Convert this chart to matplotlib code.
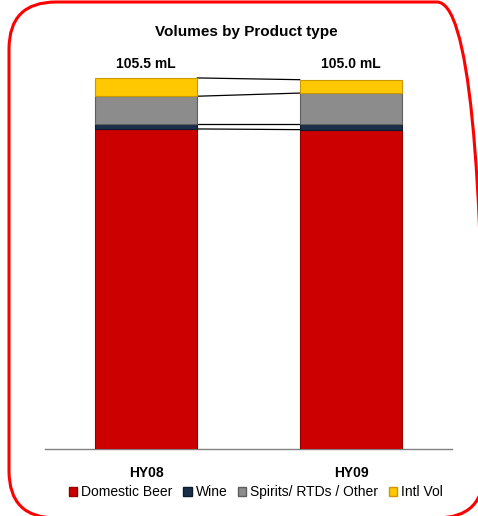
import matplotlib.pyplot as plt
import numpy as np
from matplotlib.patches import FancyBboxPatch, Patch
from matplotlib.transforms import IdentityTransform

plt.rcParams['font.family'] = ['Liberation Sans', 'DejaVu Sans']

periods = ["HY08", "HY09"]
totals = ["105.5 mL", "105.0 mL"]
segments = ["Domestic Beer", "Wine", "Spirits/ RTDs / Other", "Intl Vol"]
domestic_beer = [91.0, 90.8]
wine = [1.5, 1.7]
spirits = [7.8, 8.7]
intl_vol = [5.2, 3.8]

colors = ["#CC0000", "#1C2F4A", "#8C8C8C", "#FFC800"]
edges = ["#8E0000", "#0F1A2A", "#5E5E5E", "#C99A00"]

W, H = 478, 516
fig = plt.figure(figsize=(W / 100, H / 100), dpi=100)

# axes placed in pixel terms
left, right, bottom, top = 45, 452, 449, 60
ax = fig.add_axes([left / W, (H - bottom) / H, (right - left) / W, (bottom - top) / H])

x = np.arange(len(periods))
width = 0.5
data = [domestic_beer, wine, spirits, intl_vol]
base = np.zeros(len(periods))
levels = [base.copy()]
for vals, c, e, name in zip(data, colors, edges, segments):
    ax.bar(x, vals, width, bottom=base, color=c, edgecolor=e, linewidth=0.8, label=name, zorder=3)
    base = base + np.array(vals)
    levels.append(base.copy())

# connector lines between the bars
for lv in levels[1:]:
    ax.plot([x[0] + width / 2, x[1] - width / 2], [lv[0], lv[1]], color="black", lw=0.9, zorder=2)

for xi, t in zip(x, totals):
    ax.text(xi, 109.6, t, ha="center", va="center", fontsize=10, fontweight="bold")

ax.set_xlim(-0.493, 1.493)
ax.set_ylim(0, 110.6)
ax.set_xticks(x)
ax.set_xticklabels(periods, fontsize=10, fontweight="bold")
ax.tick_params(axis="x", length=0, pad=12)
ax.set_yticks([])
for s in ["top", "left", "right"]:
    ax.spines[s].set_visible(False)
ax.spines["bottom"].set_color("#808080")
ax.spines["bottom"].set_linewidth(1)

fig.text(246 / W, (H - 32) / H, "Volumes by Product type", ha="center", va="center",
         fontsize=11, fontweight="bold")

handles = [Patch(facecolor=c, edgecolor=e) for c, e in zip(colors, edges)]
fig.legend(handles, segments, loc="center", bbox_to_anchor=(256 / W, (H - 492) / H), ncol=4,
           frameon=False, fontsize=10, handlelength=0.6, handleheight=0.6,
           handletextpad=0.3, columnspacing=0.75, borderaxespad=0)

# rounded red border, partly off the canvas (pixel coordinates)
bx0, by0, bx1, by1 = 9, 2, 484, 518
box = FancyBboxPatch((bx0, H - by1), bx1 - bx0, by1 - by0,
                     boxstyle="round,pad=0,rounding_size=47",
                     transform=IdentityTransform(), facecolor="none",
                     edgecolor="#FF0000", linewidth=2.2, clip_on=False)
fig.patches.append(box)

fig.savefig("out.png", dpi=100)
